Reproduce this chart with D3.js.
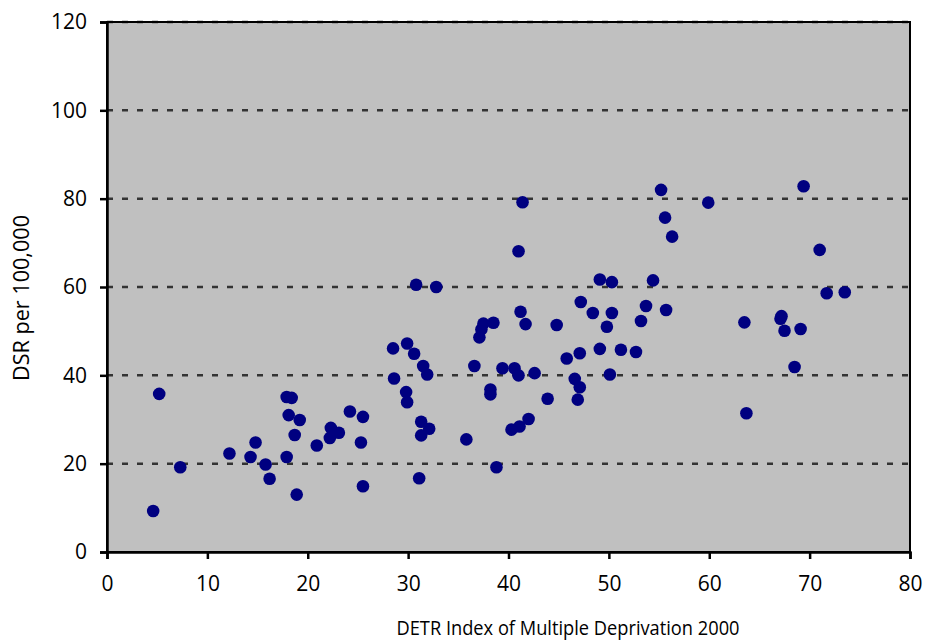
<!DOCTYPE html>
<html>
<head>
<meta charset="utf-8">
<script src="https://cdn.jsdelivr.net/npm/d3@7"></script>
<style>
  body { margin: 0; background: #fff; }
  text { font-family: "Open Sans", sans-serif; }
</style>
</head>
<body>
<div id="chart"></div>
<script>
"use strict"

// deprivation index (x) and DSR per 100,000 (y)
var imdScores = [4.6, 5.2, 7.3, 12.2, 14.3, 14.8, 15.8, 16.2, 17.9, 18.4, 18.1, 17.9, 18.7, 18.9, 19.2,
    20.9, 22.2, 22.3, 23.1, 24.2, 25.5, 25.3, 25.5, 28.5, 28.6, 29.9, 30.6, 31.5, 31.9, 29.8, 29.9,
    31.3, 32.1, 31.3, 31.1, 30.8, 32.8, 35.8, 36.6, 37.1, 37.3, 37.5, 38.5, 38.2, 38.2, 38.8, 39.4,
    40.6, 41.0, 42.6, 40.3, 41.1, 42.0, 43.9, 41.0, 41.4, 41.2, 41.7, 44.8, 45.8, 47.1, 46.6, 47.1,
    46.9, 47.2, 48.4, 49.1, 49.8, 50.3, 50.3, 49.1, 50.1, 51.2, 52.7, 53.2, 53.7, 54.4, 55.2, 55.6,
    56.3, 55.7, 59.9, 63.5, 63.7, 67.2, 67.1, 67.5, 69.1, 68.5, 69.4, 71.0, 71.7, 73.5];
var dsrValues = [9.3, 35.8, 19.2, 22.3, 21.5, 24.8, 19.8, 16.6, 35.1, 34.9, 31.0, 21.5, 26.5, 13.0, 29.9,
    24.1, 25.8, 28.1, 27.0, 31.8, 30.6, 24.8, 14.9, 46.1, 39.3, 47.2, 44.9, 42.1, 40.2, 36.2, 33.9,
    29.5, 27.9, 26.4, 16.7, 60.5, 60.0, 25.5, 42.1, 48.6, 50.4, 51.7, 51.9, 36.8, 35.7, 19.2, 41.6,
    41.6, 40.0, 40.5, 27.7, 28.4, 30.1, 34.7, 68.1, 79.2, 54.4, 51.6, 51.4, 43.8, 45.0, 39.2, 37.3,
    34.5, 56.6, 54.1, 46.0, 51.0, 54.1, 61.1, 61.7, 40.2, 45.8, 45.3, 52.3, 55.7, 61.5, 82.0, 75.7,
    71.4, 54.8, 79.1, 52.0, 31.4, 53.4, 52.8, 50.1, 50.5, 41.9, 82.8, 68.4, 58.6, 58.8];

var xTicks = [0, 10, 20, 30, 40, 50, 60, 70, 80];
var yTicks = [0, 20, 40, 60, 80, 100, 120];
var xTitle = "DETR Index of Multiple Deprivation 2000";
var yTitle = "DSR per 100,000";

var width = 928, height = 643;
var margin = {top: 22, right: 18, bottom: 91, left: 107};
var plotW = width - margin.left - margin.right,
    plotH = height - margin.top - margin.bottom;

var svg = d3.select("#chart").append("svg")
    .attr("width", width)
    .attr("height", height);

var g = svg.append("g").attr("transform", "translate(" + margin.left + "," + margin.top + ")");

var x = d3.scaleLinear().domain([0, 80]).range([0, plotW]);
var y = d3.scaleLinear().domain([0, 120]).range([plotH, 0]);

// grey plot area
g.append("rect")
    .attr("width", plotW)
    .attr("height", plotH)
    .style("fill", "#c0c0c0");

// dashed gridlines
g.selectAll(".grid")
    .data(yTicks.filter(function (d) { return d > 0; }))
    .enter().append("line")
    .attr("x1", 0).attr("x2", plotW)
    .attr("y1", function (d) { return y(d); })
    .attr("y2", function (d) { return y(d); })
    .style("stroke", "#333")
    .style("stroke-width", 2.5)
    .style("stroke-dasharray", "6,9");

// border right/top
g.append("rect")
    .attr("width", plotW)
    .attr("height", plotH)
    .style("fill", "none")
    .style("stroke", "#000")
    .style("stroke-width", 2);

var xAxis = g.append("g")
    .attr("transform", "translate(0," + plotH + ")")
    .call(d3.axisBottom(x).tickValues(xTicks).tickSizeOuter(0).tickSize(7).tickPadding(17));
var yAxis = g.append("g")
    .call(d3.axisLeft(y).tickValues(yTicks).tickSizeOuter(0).tickSize(7).tickPadding(13));

[xAxis, yAxis].forEach(function (a) {
    a.selectAll("path, line").style("stroke", "#000").style("stroke-width", 2.5);
    a.selectAll("text").style("font-size", "21px").style("fill", "#000")
        .style("font-family", "'Open Sans', sans-serif");
});

// points
g.selectAll(".dot")
    .data(d3.zip(imdScores, dsrValues))
    .enter().append("circle")
    .attr("cx", function (d) { return x(d[0]); })
    .attr("cy", function (d) { return y(d[1]); })
    .attr("r", 6.3)
    .style("fill", "#000080");

// titles
svg.append("text")
    .attr("x", 568)
    .attr("y", 635)
    .attr("text-anchor", "middle")
    .attr("textLength", 343)
    .attr("lengthAdjust", "spacingAndGlyphs")
    .style("font-size", "20px")
    .text(xTitle);

svg.append("text")
    .attr("transform", "translate(29,298) rotate(-90)")
    .attr("text-anchor", "middle")
    .attr("textLength", 166)
    .attr("lengthAdjust", "spacingAndGlyphs")
    .style("font-size", "21px")
    .text(yTitle);
</script>
</body>
</html>
